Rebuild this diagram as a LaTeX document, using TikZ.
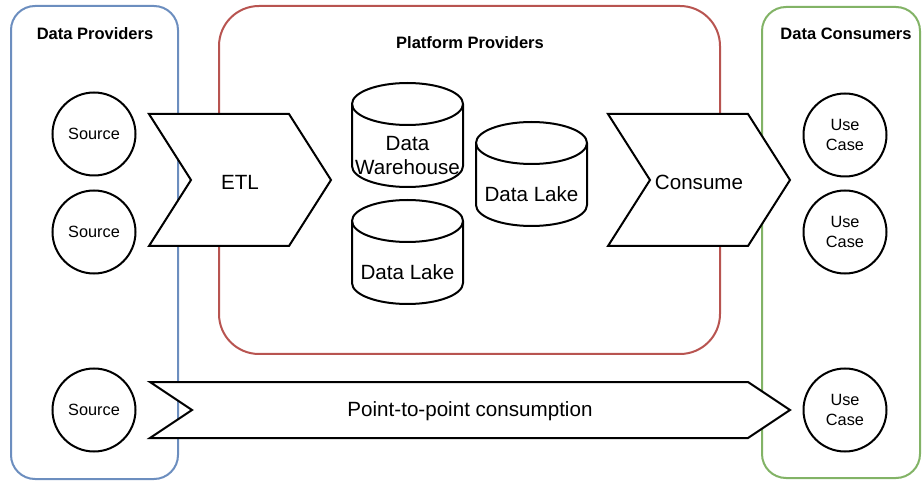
\documentclass[tikz,border=0pt]{standalone}
\usepackage{fontspec}
\setmainfont{Liberation Sans}
\definecolor{provblue}{HTML}{6C8EBF}
\definecolor{platred}{HTML}{B85450}
\definecolor{consgreen}{HTML}{82B366}
\newcommand\dbcyl[2]{%
  \draw[shapeline] (#1,#2+21) -- (#1,#2+83)
    arc[start angle=180,end angle=360,x radius=55.5pt,y radius=21pt]
    -- (#1+111,#2+21)
    arc[start angle=0,end angle=180,x radius=55.5pt,y radius=21pt] -- cycle;
  \draw[shapeline,fill=none] (#1,#2+21)
    arc[start angle=180,end angle=360,x radius=55.5pt,y radius=21pt];
}
\begin{document}
\begin{tikzpicture}[x=1pt,y=-1pt,
  group/.style={line width=2pt, fill=white, rounded corners=#1},
  title/.style={font=\fontsize{16.5}{19}\selectfont\bfseries, inner sep=0pt},
  big/.style={font=\fontsize{20.6}{24}\selectfont, align=center, inner sep=0pt},
  circ/.style={circle, draw, line width=2pt, minimum size=83pt, inner sep=0pt,
    fill=white, font=\fontsize{16.3}{19.5}\selectfont, align=center},
  shapeline/.style={draw, line width=2pt, fill=white, line join=miter}]
\useasboundingbox (0,0) rectangle (922,481);
% groups
\draw[group=24pt, draw=provblue] (11,6) rectangle (178,479);
\draw[group=40pt, draw=platred] (219,6) rectangle (720,354);
\draw[group=24pt, draw=consgreen] (762,7) rectangle (920,478);
\node[title] (tprov) at (95,34) {Data Providers};
\node[title] (tplat) at (470,43) {Platform Providers};
\node[title] (tcons) at (846,34) {Data Consumers};
% chevrons
\draw[shapeline] (149,114) -- (289,114) -- (331,180) -- (289,246) -- (149,246) -- (191,180) -- cycle;
\node[big] (etl) at (240,182) {ETL};
\draw[shapeline] (608,114) -- (748,114) -- (790,180) -- (748,246) -- (608,246) -- (650,180) -- cycle;
\node[big] (consume) at (699,182) {Consume};
\draw[shapeline] (150,382) -- (748,382) -- (790,410) -- (748,438) -- (150,438) -- (192,410) -- cycle;
\node[big] (p2p) at (470,411) {Point-to-point consumption};
% cylinders
\dbcyl{352}{83}
\node[big] (dw) at (407.5,156) {Data\\Warehouse};
\dbcyl{352}{200}
\node[big] (dl1) at (407.5,272) {Data Lake};
\dbcyl{476}{122}
\node[big] (dl2) at (531.5,194) {Data Lake};
% circles
\node[circ] (s1) at (94,134) {Source};
\node[circ] (s2) at (94,232) {Source};
\node[circ] (s3) at (94,410) {Source};
\node[circ] (u1) at (845,135) {Use\\Case};
\node[circ] (u2) at (845,232) {Use\\Case};
\node[circ] (u3) at (845,410) {Use\\Case};
\end{tikzpicture}
\end{document}
